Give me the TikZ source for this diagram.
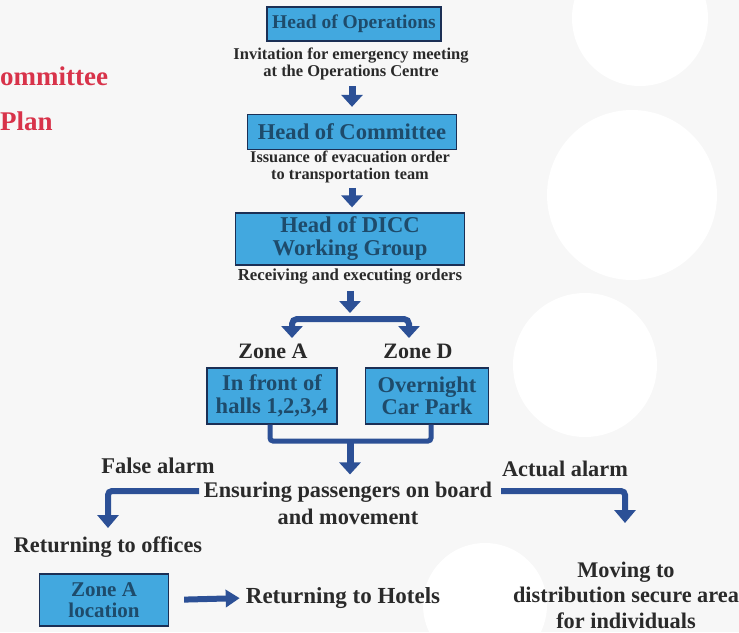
\documentclass[tikz,border=0pt]{standalone}
\usepackage{fontspec}
\setmainfont{Liberation Serif}
\usetikzlibrary{arrows.meta}
\definecolor{bgc}{HTML}{F7F7F7}
\definecolor{boxfill}{HTML}{42A8DF}
\definecolor{boxline}{HTML}{1B2F55}
\definecolor{boxtext}{HTML}{1E4B6B}
\definecolor{arrowblue}{HTML}{2C5096}
\definecolor{titlered}{HTML}{D8334A}
\definecolor{txt}{HTML}{2A2A2A}
\newcommand{\fs}[2]{\fontsize{#1}{#2}\selectfont}
\tikzset{
  box/.style={draw=boxline, line width=1.3pt, fill=boxfill, text=boxtext, align=center, inner sep=0pt},
  lbl/.style={text=txt, align=center, inner sep=1pt},
  barrow/.style={draw=arrowblue, line width=7pt, -{Triangle[width=21pt,length=12pt]}},
  elbowarrow/.style={draw=arrowblue, line width=6pt, rounded corners=4pt, -{Triangle[width=21pt,length=13pt]}},
  harrow/.style={draw=arrowblue, line width=6pt, -{Triangle[width=17pt,length=14pt]}},
  conn/.style={draw=arrowblue, line width=5pt, rounded corners=3pt},
}
\begin{document}
\begin{tikzpicture}[x=1pt,y=-1pt]
\useasboundingbox (0,0) rectangle (739,632);
\fill[bgc] (0,0) rectangle (739,632);
\fill[white] (632,195) circle (85);
\fill[white] (585,365) circle (72);
\fill[white] (640,18) circle (68);
\fill[white] (485,605) circle (62);

% title fragments
\node[anchor=west, text=titlered, font=\bfseries\fs{27}{30}, inner sep=0pt] (t1) at (0,76) {ommittee};
\node[anchor=west, text=titlered, font=\bfseries\fs{27}{30}, inner sep=0pt] (t2) at (0,121) {Plan};

% main column
\node[box, minimum width=174pt, minimum height=34pt, font=\bfseries\fs{19.5}{22}] (ops) at (354,24) {Head of Operations};
\node[lbl, font=\bfseries\fs{16.5}{16.5}] (inv) at (351,64) {Invitation for emergency meeting\\at the Operations Centre};
\node[box, minimum width=209pt, minimum height=35pt, font=\bfseries\fs{22.6}{24}] (com) at (352,132) {Head of Committee};
\node[lbl, font=\bfseries\fs{16.3}{16.3}] (iss) at (350,167) {Issuance of evacuation order\\to transportation team};
\node[box, minimum width=229pt, minimum height=52pt, font=\bfseries\fs{22.6}{23}] (dicc) at (350,239) {Head of DICC\\Working Group};
\node[lbl, font=\bfseries\fs{16.8}{16}] (rec) at (350,277) {Receiving and executing orders};

\draw[barrow, shorten <=5pt, shorten >=7pt] (inv.south -| 352,0) -- (com.north -| 352,0);
\draw[barrow, shorten <=4pt, shorten >=5pt] (iss.south -| 352,0) -- (dicc.north -| 352,0);

\coordinate (bc) at (350,319);
\coordinate (sL) at (292,338);
\coordinate (sR) at (409,338);
\draw[barrow, shorten <=5pt, shorten >=6pt] (rec.south) -- (bc);
\draw[draw=arrowblue, line width=6pt, rounded corners=5pt, -{Triangle[width=21pt,length=12pt]}] (bc) -| (sL);
\draw[draw=arrowblue, line width=6pt, rounded corners=5pt, -{Triangle[width=21pt,length=12pt]}] (bc) -| (sR);

\node[lbl, font=\bfseries\fs{22}{24}] (za) at (273,351) {Zone A};
\node[lbl, font=\bfseries\fs{22}{24}] (zd) at (418,351) {Zone D};

\node[box, minimum width=130pt, minimum height=56pt, font=\bfseries\fs{22.5}{22.5}] (hall) at (272,396) {In front of\\halls 1,2,3,4};
\node[box, minimum width=123pt, minimum height=56pt, font=\bfseries\fs{22.5}{22.5}] (car) at (427,396) {Overnight\\Car Park};

\coordinate (merge) at (350,441);
\draw[conn] (hall.south -| 270,0) |- (merge) -| (car.south -| 431,0);

\node[lbl, font=\bfseries\fs{22.5}{24}] (fa) at (158,466) {False alarm};
\node[lbl, font=\bfseries\fs{22.3}{24}] (aa) at (565,469) {Actual alarm};
\node[lbl, font=\bfseries\fs{22.3}{27}] (ens) at (348,503) {Ensuring passengers on board\\and movement};
\draw[barrow, shorten >=6pt] (merge) -- (ens.north -| merge);

\node[lbl, font=\bfseries\fs{22.3}{24}] (off) at (108,547) {Returning to offices};
\coordinate (fL) at (199,491);
\coordinate (aR) at (501,491);
\draw[elbowarrow] (fL) -| (108,528);
\draw[elbowarrow] (aR) -| (625,523);

\node[box, minimum width=129pt, minimum height=52pt, font=\bfseries\fs{21}{21}] (zal) at (104,600) {Zone A\\location};
\node[lbl, font=\bfseries\fs{23}{24}] (hot) at (343,598) {Returning to Hotels};
\draw[harrow, shorten <=15pt, shorten >=5pt] (zal.east) -- (hot.west);

\node[lbl, font=\bfseries\fs{22.3}{25.5}] (mov) at (626,595) {Moving to\\distribution secure area\\for individuals};
\end{tikzpicture}
\end{document}
